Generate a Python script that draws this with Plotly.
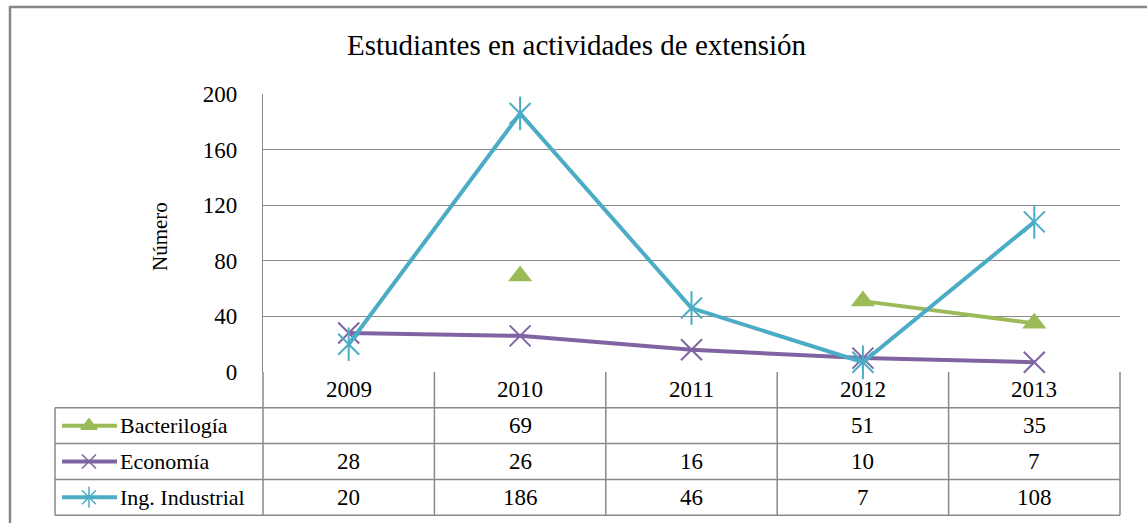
import plotly.graph_objects as go

years = ["2009", "2010", "2011", "2012", "2013"]
series_names = ["Bacterilogía", "Economía", "Ing. Industrial"]
bacteriologia = [None, 69, None, 51, 35]
economia = [28, 26, 16, 10, 7]
ing_industrial = [20, 186, 46, 7, 108]
y_ticks = [0, 40, 80, 120, 160, 200]

title_text = "Estudiantes en actividades de extensión"
y_title = "Número"

colors = {"Bacterilogía": "#9BBB59", "Economía": "#8064A2", "Ing. Industrial": "#4BACC6"}
values = {"Bacterilogía": bacteriologia, "Economía": economia, "Ing. Industrial": ing_industrial}

W, H = 1147, 523
PX_L, PX_R, PY_T, PY_B = 263, 1120, 94, 372
ROW_H = 35.8
TABLE_L = 55
GRID = "#898989"
FONT = "Liberation Serif, Times New Roman, serif"

n = len(years)
col_w = (PX_R - PX_L) / n


def col_center(i):
    return PX_L + (i + 0.5) * col_w


def px(x):
    return x / W


def py(y):
    return 1 - y / H


def label(x, y, text, size, xanchor="center", angle=0):
    return dict(xref="paper", yref="paper", x=px(x), y=py(y), text=text, showarrow=False,
                xanchor=xanchor, yanchor="middle", textangle=angle,
                font=dict(family=FONT, size=size, color="black"))


fig = go.Figure()

for name in series_names:
    c = colors[name]
    vals = values[name]
    if name == "Bacterilogía":
        marker = dict(symbol="triangle-up", size=21, color=c)
    else:
        marker = dict(symbol="x-thin-open", size=21, color=c, line=dict(color=c, width=2))
    fig.add_trace(go.Scatter(x=list(range(n)), y=vals, mode="lines+markers", name=name,
                             line=dict(color=c, width=4), marker=marker, connectgaps=False,
                             showlegend=False, cliponaxis=False))
    if name == "Ing. Industrial":
        fig.add_trace(go.Scatter(x=list(range(n)), y=vals, mode="markers", showlegend=False,
                                 marker=dict(symbol="line-ns-open", size=24, color=c,
                                             line=dict(color=c, width=2)), cliponaxis=False))

shapes = []
annotations = []

shapes.append(dict(type="rect", xref="paper", yref="paper", x0=px(10), y0=py(7), x1=px(W + 20), y1=py(H + 20),
                   line=dict(color="#878787", width=2.5), fillcolor="rgba(0,0,0,0)"))

rows_bottom = PY_B + ROW_H * (1 + len(series_names))
for i in range(n + 1):
    x = PX_L + i * col_w
    shapes.append(dict(type="line", xref="paper", yref="paper", x0=px(x), x1=px(x), y0=py(PY_B), y1=py(rows_bottom),
                       line=dict(color=GRID, width=1.5)))
for r in range(1, len(series_names) + 2):
    y = PY_B + r * ROW_H
    shapes.append(dict(type="line", xref="paper", yref="paper", x0=px(TABLE_L), x1=px(PX_R), y0=py(y), y1=py(y),
                       line=dict(color=GRID, width=1.5)))
shapes.append(dict(type="line", xref="paper", yref="paper", x0=px(TABLE_L), x1=px(TABLE_L),
                   y0=py(PY_B + ROW_H), y1=py(rows_bottom), line=dict(color=GRID, width=1.5)))

for i, yr in enumerate(years):
    annotations.append(label(col_center(i), PY_B + ROW_H / 2, yr, 23))

for r, name in enumerate(series_names):
    yc = PY_B + ROW_H * (r + 1.5)
    vals = values[name]
    for i, v in enumerate(vals):
        if v is not None:
            annotations.append(label(col_center(i), yc, str(v), 23))
    annotations.append(label(118, yc, name, 22, xanchor="left"))
    c = colors[name]
    shapes.append(dict(type="line", xref="paper", yref="paper", x0=px(62), x1=px(117), y0=py(yc), y1=py(yc),
                       line=dict(color=c, width=4)))
    sym = "triangle-up" if name == "Bacterilogía" else "x-thin-open"
    fig.add_trace(go.Scatter(x=[89], y=[yc], xaxis="x2", yaxis="y2", mode="markers", showlegend=False,
                             marker=dict(symbol=sym, size=14, color=c, line=dict(color=c, width=1.5))))
    if name == "Ing. Industrial":
        fig.add_trace(go.Scatter(x=[89], y=[yc], xaxis="x2", yaxis="y2", mode="markers", showlegend=False,
                                 marker=dict(symbol="line-ns-open", size=15, color=c,
                                             line=dict(color=c, width=1.5))))

annotations.append(label(577, 45, title_text, 29))
annotations.append(label(160, 237, y_title, 21, angle=-90))

fig.update_layout(
    width=W, height=H, autosize=False,
    margin=dict(l=0, r=0, t=0, b=0, pad=0, autoexpand=False),
    font=dict(family=FONT, color="black"),
    paper_bgcolor="white", plot_bgcolor="rgba(0,0,0,0)",
    xaxis=dict(domain=[PX_L / W, PX_R / W], range=[-0.5, n - 0.5], showgrid=False, zeroline=False,
               showticklabels=False, showline=False, fixedrange=True, anchor="y", automargin=False),
    yaxis=dict(domain=[(H - PY_B) / H, (H - PY_T) / H], range=[0, 200], tickvals=y_ticks,
               showgrid=True, gridcolor=GRID, gridwidth=1.3, zeroline=False, anchor="x", automargin=False,
               showline=True, linecolor=GRID, linewidth=1.3, ticks="", ticklabelstandoff=20,
               tickfont=dict(family=FONT, size=23, color="black")),
    xaxis2=dict(domain=[0, 1], range=[0, W], visible=False, anchor="y2", automargin=False),
    yaxis2=dict(domain=[0, 1], range=[H, 0], visible=False, anchor="x2", automargin=False),
    shapes=shapes, annotations=annotations,
)

fig.write_html(
    "out.html",
    config={"displayModeBar": False},
    post_script=(
        "document.body.style.margin='0';document.body.style.padding='0';"
        "var gd=document.getElementById('{plot_id}');"
        "gd.style.position='absolute';gd.style.left='0px';gd.style.top='0px';"
    ),
)
